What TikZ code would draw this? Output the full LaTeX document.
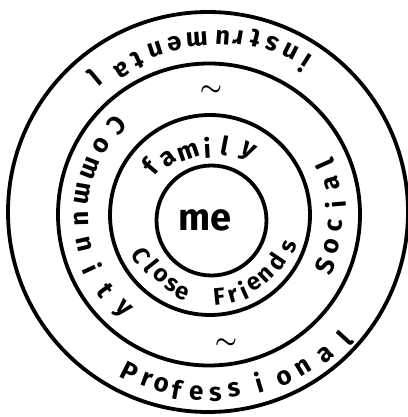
\documentclass[tikz,border=0pt]{standalone}
\usepackage{fontspec}
\setmainfont{Fira Sans}
\tikzset{
  ring/.style={draw=black, line width=3.8pt},
  glyph/.style={inner sep=0pt, font=\fontsize{26}{26}\selectfont\bfseries},
  smallglyph/.style={glyph, font=\fontsize{24}{24}\selectfont\bfseries},
  wave/.style={font=\fontsize{38}{38}\selectfont\boldmath},
}

\begin{document}
\begin{tikzpicture}[x=1pt,y=1pt]
  \useasboundingbox (-208,-205) rectangle (199,212);
  % rings, outside in
  \draw[ring] (0,0) circle[radius=200];
  \draw[ring] (1,-2.5) circle[radius=151];
  \draw[ring] (2,-3) circle[radius=100];
  \draw[ring] (3.5,-8.5) circle[radius=55];
  % centre
  \node[font=\fontsize{38}{38}\selectfont\bfseries] (me) at (-3,-8) {me};
  % inner band: family upright, Close Friends tops inward
  \foreach \c/\a/\r [count=\k] in {f/140/79.5, a/126/73, m/109/70, i/93/70, l/79/74, y/61/75}
    \node[glyph, rotate=\a-90, name=fam\k] at ([shift={(3,-6)}]\a:\r) {\c};
  \foreach \c/\a/\r [count=\k] in {C/208.5/79, l/218.5/76, o/229/76, s/239.5/78, e/249/80,
      F/275.8/79, r/285.7/81, i/294/79, e/304/78.5, n/314/78.5, d/326/78, s/339.8/84}
    \node[smallglyph, rotate=\a+90, name=clf\k] at ([shift={(3,-6)}]\a:\r) {\c};
  % middle band
  \foreach \c [count=\k from 0, evaluate=\k as \a using 136+\k*11.4] in {C,o,m,m,u,n,i,t,y}
    \node[glyph, rotate=\a+90, name=com\k] at ([shift={(2,-3)}]\a:129) {\c};
  \foreach \c [count=\k from 0, evaluate=\k as \a using -24+\k*9.6] in {S,o,c,i,a,l}
    \node[glyph, rotate=\a+90, name=soc\k] at ([shift={(2,-3)}]\a:126) {\c};
  \node[wave] (tildeTop) at (3,121) {$\sim$};
  \node[wave] (tildeBot) at (18,-132) {$\sim$};
  % outer band
  \foreach \c/\a/\r [count=\k] in {i/57.4/178, n/63.3/181, s/69.4/181, t/75/181, r/80.5/178, u/85.5/176,
      m/94/174, e/101.5/173, n/108/172, t/115/168, a/121.4/167, l/130/177}
    \node[glyph, rotate=\a+90, name=ins\k] at ([shift={(1,-1)}]\a:\r) {\c};
  \foreach \c/\a/\r [count=\k] in {P/243.3/178, r/249.6/178, o/254.6/178, f/259.6/180, e/266/181, s/272/181,
      s/278/179, i/286.5/177, o/294.5/181, n/301.5/181, a/309.5/183, l/317.5/185}
    \node[glyph, rotate=\a+90, name=pro\k] at ([shift={(1,-1)}]\a:\r) {\c};
\end{tikzpicture}
\end{document}
